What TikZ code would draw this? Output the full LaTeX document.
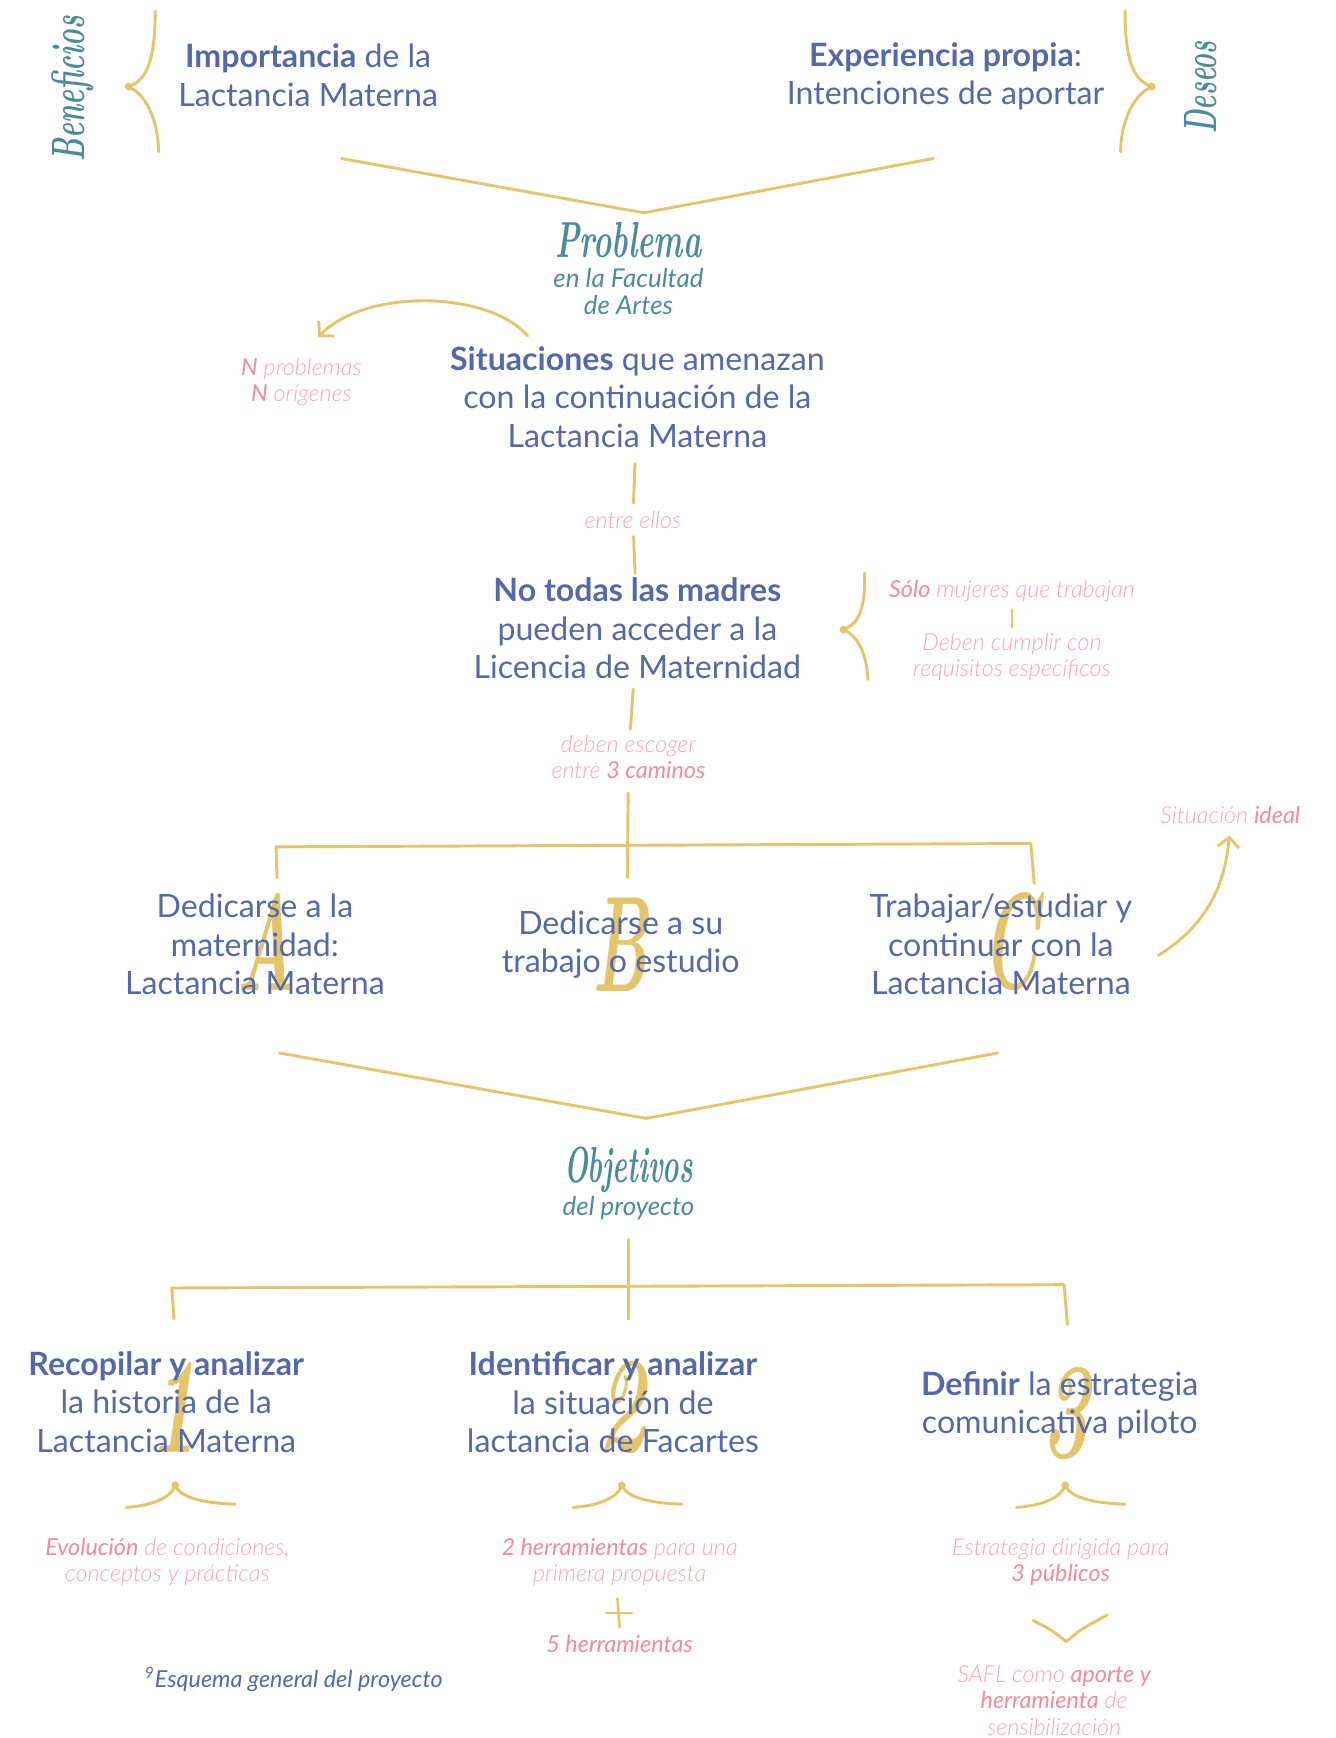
\documentclass[tikz,border=0pt]{standalone}
\usepackage{fontspec}
\usetikzlibrary{arrows.meta}
\newfontfamily\lato{Lato}
\newfontfamily\latolight{Lato Light}[ItalicFont={Lato Light Italic},BoldItalicFont={Lato Italic}]
\definecolor{azul}{HTML}{5568A8}
\definecolor{verde}{HTML}{4C8B9B}
\definecolor{oro}{HTML}{E4C56B}
\definecolor{rosa}{HTML}{F5A5B2}
\definecolor{rosaf}{HTML}{F08C9E}
\newcommand{\rb}[1]{{\bfseries\color{rosaf}#1}}
\newcommand{\guion}[2]{\scalebox{#1}[1]{#2}}

\begin{document}
\begin{tikzpicture}[x=0.02cm,y=-0.02cm,
    texto/.style={text=azul,font=\lato\fontsize{16.5}{19.8}\selectfont,align=center,inner sep=0pt},
    nota/.style={text=rosa,font=\latolight\itshape\fontsize{12}{13.6}\selectfont,align=center,inner sep=0pt},
    sub/.style={text=verde,font=\lato\itshape\fontsize{13.3}{14.2}\selectfont,align=center,inner sep=0pt},
    titulo/.style={text=verde,font=\rmfamily\bfseries\itshape\fontsize{24}{24}\selectfont,inner sep=0pt},
    letra/.style={text=oro,font=\rmfamily\bfseries\itshape\fontsize{70}{70}\selectfont,inner sep=0pt},
    trazo/.style={draw=oro,line width=1.5pt,line cap=round,line join=round},
    flecha/.style={trazo,-{Straight Barb[length=5pt,width=11pt]}}]
    \path[use as bounding box] (0,0) rectangle (1205,1568);

    % fuentes del problema
    \node[titulo,rotate=90] (benef) at (66,80) {\guion{0.6}{Beneficios}};
    \node[texto] (imp) at (278,68) {\textbf{Importancia} de la\\Lactancia Materna};
    \node[texto] (exp) at (853,69) {\textbf{Experiencia propia}:\\Intenciones de aportar};
    \node[titulo,rotate=90] (deseos) at (1083,79) {\guion{0.57}{Deseos}};
    \draw[trazo] (140,10) .. controls (140,55) and (132,74) .. (115,78) .. controls (132,84) and (143,110) .. (143,137);
    \fill[oro] (116,78) circle (3.5);
    \draw[trazo] (1015,10) .. controls (1015,55) and (1023,74) .. (1040,78) .. controls (1023,84) and (1011,110) .. (1011,137);
    \fill[oro] (1039,78) circle (3.5);
    \coordinate (v1i) at (308,143);
    \coordinate (v1c) at (581,192);
    \coordinate (v1d) at (842,143);
    \draw[trazo] (v1i) -- (v1c) -- (v1d);

    % problema
    \node[titulo,font=\rmfamily\bfseries\itshape\fontsize{26}{26}\selectfont] (prob) at (567,217) {\guion{0.61}{Problema}};
    \node[sub] (fac) at (567,263) {en la Facultad\\de Artes};
    \node[texto] (sit) at (575,358) {\textbf{Situaciones} que amenazan\\con la continuación de la\\Lactancia Materna};
    \node[nota] (norig) at (272,345) {\rb{N} problemas\\\rb{N} orígenes};
    \coordinate (salida) at (476,303);
    \coordinate (llegada) at (287,304);
    \draw[flecha] (salida) .. controls (440,262) and (330,260) .. (llegada);
    \node[nota] (entre) at (571,469) {entre ellos};
    \draw[trazo,shorten <=8pt,shorten >=4pt] (sit) -- (entre);
    \node[texto] (madres) at (575,567) {\textbf{No todas las madres}\\pueden acceder a la\\Licencia de Maternidad};
    \draw[trazo,shorten <=4pt,shorten >=2pt] (entre) -- (madres);
    \draw[trazo] (780,517) .. controls (781,548) and (775,564) .. (760,568) .. controls (775,573) and (782,592) .. (783,613);
    \fill[oro] (761,568) circle (3.5);
    \node[nota] (solo) at (913,533) {\rb{Sólo} mujeres que trabajan};
    \node[nota] (req) at (913,593) {Deben cumplir con\\requisitos específicos};
    \draw[trazo,line width=1.3pt,shorten <=4pt,shorten >=3pt] (solo) -- (req);
    \node[nota] (esc) at (567,683) {deben escoger\\entre \rb{3 caminos}};
    \draw[trazo,shorten <=5pt,shorten >=3pt] (madres) -- (esc);

    % tres caminos
    \coordinate (c1) at (250,792);
    \coordinate (c2) at (249,764);
    \coordinate (c3) at (930,761);
    \coordinate (c4) at (933,797);
    \coordinate (cb) at (566,792);
    \draw[trazo] (c1) -- (c2) -- (c3) -- (c4);
    \draw[trazo,shorten <=7pt] (esc) -- (cb);
    \node[letra] (la) at (240,850) {\guion{0.5}{A}};
    \node[letra] (lb) at (560,852) {\guion{0.5}{B}};
    \node[letra] (lc) at (912,850) {\guion{0.5}{C}};
    \node[texto] (opa) at (230,852) {Dedicarse a la\\maternidad:\\Lactancia Materna};
    \node[texto] (opb) at (560,852) {Dedicarse a su\\trabajo o estudio};
    \node[texto] (opc) at (903,852) {Trabajar/estudiar y\\continuar con la\\Lactancia Materna};
    \node[nota] (ideal) at (1110,735) {Situación \rb{ideal}};
    \coordinate (ideal0) at (1045,862);
    \draw[flecha,shorten >=6pt] (ideal0) .. controls (1088,835) and (1105,800) .. (ideal.south);
    \coordinate (v2i) at (252,950);
    \coordinate (v2c) at (583,1009);
    \coordinate (v2d) at (900,950);
    \draw[trazo] (v2i) -- (v2c) -- (v2d);

    % objetivos
    \node[titulo,font=\rmfamily\bfseries\itshape\fontsize{26}{26}\selectfont] (obj) at (567,1055) {\guion{0.55}{Objetivos}};
    \node[sub] (delp) at (567,1090) {del proyecto};
    \coordinate (d1) at (157,1190);
    \coordinate (d2) at (155,1162);
    \coordinate (d3) at (960,1159);
    \coordinate (d4) at (963,1195);
    \coordinate (db) at (567,1190);
    \draw[trazo] (d1) -- (d2) -- (d3) -- (d4);
    \draw[trazo,shorten <=10pt] (delp) -- (db);
    \node[letra] (l1) at (157,1270) {\guion{0.6}{1}};
    \node[letra] (l2) at (561,1270) {\guion{0.6}{2}};
    \node[letra] (l3) at (961,1275) {\guion{0.6}{3}};
    \node[texto] (o1) at (150,1265) {\textbf{Recopilar y analizar}\\la historia de la\\Lactancia Materna};
    \node[texto] (o2) at (553,1265) {\textbf{Identificar y analizar}\\la situación de\\lactancia de Facartes};
    \node[texto] (o3) at (956,1268) {\textbf{Definir} la estrategia\\comunicativa piloto};
    \foreach \x in {158,561,961}
      {\draw[trazo] (\x-44,1360) .. controls (\x-18,1358) and (\x-3,1350) .. (\x,1340) .. controls (\x+4,1350) and (\x+22,1356) .. (\x+54,1357);
       \fill[oro] (\x,1340) circle (3.5);}
    \node[nota] (n1) at (151,1409) {\rb{Evolución} de condiciones,\\conceptos y prácticas};
    \node[nota] (n2) at (559,1409) {\rb{2 herramientas} para una\\primera propuesta};
    \coordinate (mas) at (558,1455);
    \draw[trazo,line width=1.3pt] ([shift={(-1,-13)}]mas) -- ([shift={(1,13)}]mas);
    \draw[trazo,line width=1.3pt] ([shift={(-11,0)}]mas) -- ([shift={(12,0)}]mas);
    \node[nota] (n2b) at (559,1483) {\rb{5 herramientas}};
    \node[nota] (n3) at (957,1409) {Estrategia dirigida para\\\rb{3 públicos}};
    \draw[trazo] (932,1462) .. controls (948,1470) .. (962,1481) .. controls (975,1470) .. (999,1457);
    \node[nota] (n3b) at (951,1534) {SAFL como \rb{aporte y}\\\rb{herramienta} de\\sensibilización};
    \node[text=azul,font=\lato\itshape\fontsize{12}{13.6}\selectfont,inner sep=0pt] (esq) at (265,1515) {\textsuperscript{9}Esquema general del proyecto};
\end{tikzpicture}
\end{document}
